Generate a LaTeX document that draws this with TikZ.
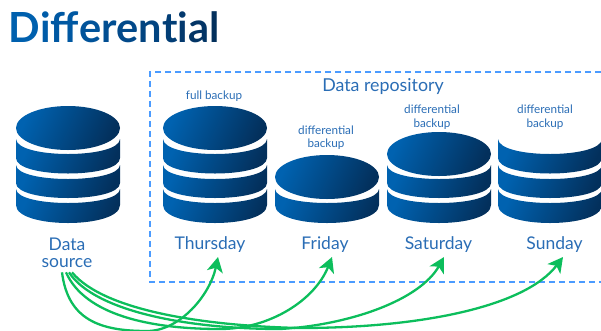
\documentclass[tikz,border=0pt]{standalone}
\usepackage{fontspec}
\setmainfont{Lato}
\usetikzlibrary{arrows.meta}
\definecolor{bright}{HTML}{0062B0}
\definecolor{midc}{HTML}{005DA8}
\definecolor{dark}{HTML}{03305C}
\definecolor{txt}{HTML}{2A6DB5}
\definecolor{grn}{HTML}{0CBE5C}
\definecolor{dashc}{HTML}{4A9BFF}
\tikzset{
  grad/.style={left color=bright, middle color=midc, right color=dark, shading angle=65},
  daylab/.style={text=txt, font=\fontsize{17.5}{18}\selectfont, anchor=south, inner sep=0pt, text height=12pt, text depth=7pt},
  smalllab/.style={text=txt, font=\fontsize{11.7}{13.5}\selectfont, align=center, inner sep=0pt},
  link/.style={draw=grn, line width=2.3pt, -{Stealth[length=15pt,width=16pt,inset=4pt]}},
}
% x-centre, y of top corners, y of bottom corners, depth of upper arc, depth of lower arc
\newcommand{\stackband}[5]{%
  \shade[grad] ({#1-52},#2) .. controls ({#1-52+1},{#2+#4*4/3}) and ({#1+52-1},{#2+#4*4/3}) .. ({#1+52},#2)
    -- ({#1+52},#3) .. controls ({#1+52},{#3+#5*4/3}) and ({#1-52},{#3+#5*4/3}) .. ({#1-52},#3) -- cycle;}
\newcommand{\stacktop}[2]{\shade[grad] (#1,#2) ellipse [x radius=52pt, y radius=22pt];}
\newcommand{\bandA}[1]{\stackband{#1}{139}{158}{15}{15.5}}
\newcommand{\bandB}[1]{\stackband{#1}{165}{183}{14}{15}}
\newcommand{\bandC}[1]{\stackband{#1}{189}{205}{14}{18}}
\begin{document}
\begin{tikzpicture}[x=1pt,y=-1pt]
\useasboundingbox (0,0) rectangle (601,330);
\clip (0,0) rectangle (601,330);
% title
\node (title) [anchor=base west, inner sep=0pt, font=\fontsize{41.5}{44}\selectfont\bfseries] at (8.5,42)
  {\textcolor[HTML]{0060AE}{D}\textcolor[HTML]{005CA8}{i}\textcolor[HTML]{0058A2}{ff}\textcolor[HTML]{01539A}{e}\textcolor[HTML]{014E92}{r}\textcolor[HTML]{02498A}{e}\textcolor[HTML]{024480}{n}\textcolor[HTML]{023E76}{t}\textcolor[HTML]{03396E}{i}\textcolor[HTML]{033566}{a}\textcolor[HTML]{03305C}{l}};
% repository
\draw[dashc, line width=1.6pt, dash pattern=on 6pt off 4pt] (601,72) -- (150,72) -- (150,282) -- (601,282);
\node (repo) [text=txt, font=\fontsize{17.8}{20}\selectfont, anchor=base, inner sep=0pt] at (383,91) {Data repository};
% stacks
\stacktop{68}{128}\bandA{68}\bandB{68}\bandC{68}
\stacktop{215}{128}\bandA{215}\bandB{215}\bandC{215}
\stacktop{327}{177}\bandC{327}
\stacktop{439}{154}\bandB{439}\bandC{439}
\bandA{550}\bandB{550}\bandC{550}
% small labels
\node (l1) [smalllab] at (214,96) {full backup};
\node (l2) [smalllab] at (326,137.5) {differential\\backup};
\node (l3) [smalllab] at (432,117) {differential\\backup};
\node (l4) [smalllab] at (545,117) {differential\\backup};
% big labels
\node (src) [text=txt, font=\fontsize{17.5}{17}\selectfont, align=center, anchor=base, inner sep=0pt] at (67,267) {Data\\source};
\node (thu) [daylab] at (210,257) {Thursday};
\node (fri) [daylab] at (325,257) {Friday};
\node (sat) [daylab] at (438.5,257) {Saturday};
\node (sun) [daylab] at (554.5,257) {Sunday};
% connectors
\path[link] ([shift={(-5,5)}]src.south) .. controls (68,320) and (100,331) .. (147,331) .. controls (180,331) and (210,295) .. ([xshift=8pt]thu.south);
\path[link] ([shift={(-1,5)}]src.south) .. controls (85,315) and (150,329) .. (220,329) .. controls (270,329) and (315,300) .. ([xshift=7pt]fri.south);
\path[link] ([shift={(2,5)}]src.south) .. controls (95,312) and (190,329) .. (280,329) .. controls (350,325) and (420,300) .. ([xshift=5.5pt]sat.south);
\path[link] ([shift={(5,5)}]src.south) .. controls (105,312) and (210,326) .. (300,328) .. controls (420,328) and (525,307) .. ([xshift=8.5pt]sun.south);
\end{tikzpicture}
\end{document}
